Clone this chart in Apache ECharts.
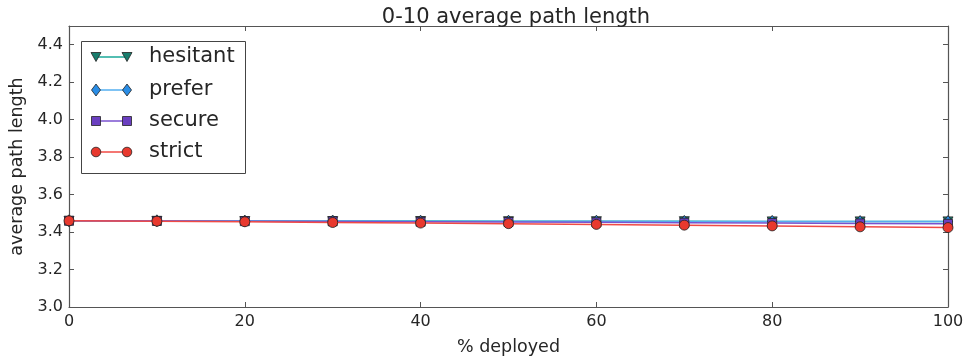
<!DOCTYPE html>
<html>
<head>
<meta charset="utf-8">
<script src="https://cdn.jsdelivr.net/npm/echarts@6/dist/echarts.min.js"></script>
<style>html,body{margin:0;padding:0;background:#fff;}#c{width:972px;height:361px;}</style>
</head>
<body>
<div id="c"></div>
<script>
const deployed = [0, 10, 20, 30, 40, 50, 60, 70, 80, 90, 100];
const hesitant = [3.460, 3.460, 3.459, 3.459, 3.459, 3.458, 3.458, 3.458, 3.457, 3.457, 3.457];
const prefer   = [3.460, 3.460, 3.459, 3.459, 3.458, 3.458, 3.458, 3.457, 3.457, 3.456, 3.456];
const secure   = [3.460, 3.459, 3.458, 3.457, 3.455, 3.454, 3.452, 3.450, 3.448, 3.446, 3.444];
const strict   = [3.460, 3.458, 3.455, 3.451, 3.448, 3.445, 3.441, 3.437, 3.433, 3.428, 3.424];
const seriesNames = ['hesitant', 'prefer', 'secure', 'strict'];
const xTicks = [0, 20, 40, 60, 80, 100];
const yTicks = [3.0, 3.2, 3.4, 3.6, 3.8, 4.0, 4.2, 4.4];

const FONT = 'DejaVu Sans';
const TXT = '#262626';
const FRAME = '#555';
const lineCols = ['#1aa898', '#55aff0', '#7a52cf', '#f04a45'];
const markCols = ['#177d6d', '#2a8de6', '#6a3fc0', '#e8392e'];
const symbols = ['triangle', 'diamond', 'rect', 'circle'];
const symSizes = [[10, 9], [9, 12], [9, 9], [10, 10]];
const symRot = [180, 0, 0, 0];
const datasets = [hesitant, prefer, secure, strict];

const chart = echarts.init(document.getElementById('c'), null, {renderer: 'canvas'});

function axisCommon() {
  return {
    axisLine: {show: true, onZero: false, lineStyle: {color: FRAME, width: 1.2}},
    axisTick: {show: true, inside: true, length: 5, lineStyle: {color: FRAME, width: 1}},
    splitLine: {show: false}
  };
}

const series = datasets.map((d, i) => ({
  name: seriesNames[i],
  type: 'line',
  xAxisIndex: 0,
  yAxisIndex: 0,
  data: deployed.map((x, j) => [x, d[j]]),
  symbol: symbols[i],
  symbolSize: symSizes[i],
  symbolRotate: symRot[i],
  showAllSymbol: true,
  lineStyle: {color: lineCols[i], width: 1.5},
  itemStyle: {color: markCols[i], borderColor: '#222', borderWidth: 0.8},
  animation: false,
  z: 2 + i
}));

// legend built as graphic (matplotlib style: marker at both ends)
const legendX0 = 96, legendX1 = 127, legendTextX = 149;
const legendY = [57, 90, 121, 152];
const legendChildren = [{
  type: 'rect', shape: {x: 81.5, y: 41.5, width: 164, height: 132},
  style: {fill: '#fff', stroke: '#444', lineWidth: 1}
}];
function markerShape(i, cx, cy) {
  const st = {fill: markCols[i], stroke: '#222', lineWidth: 0.8};
  if (i === 0) return {type: 'polygon', shape: {points: [[cx - 5, cy - 4.5], [cx + 5, cy - 4.5], [cx, cy + 4.5]]}, style: st};
  if (i === 1) return {type: 'polygon', shape: {points: [[cx, cy - 6], [cx + 4.5, cy], [cx, cy + 6], [cx - 4.5, cy]]}, style: st};
  if (i === 2) return {type: 'rect', shape: {x: cx - 4.5, y: cy - 4.5, width: 9, height: 9}, style: st};
  return {type: 'circle', shape: {cx: cx, cy: cy, r: 4.8}, style: st};
}
seriesNames.forEach((n, i) => {
  const y = legendY[i];
  legendChildren.push({type: 'line', shape: {x1: legendX0, y1: y, x2: legendX1, y2: y}, style: {stroke: lineCols[i], lineWidth: 1.5}});
  legendChildren.push(markerShape(i, legendX0, y));
  legendChildren.push(markerShape(i, legendX1, y));
  legendChildren.push({type: 'text', x: legendTextX, y: y, style: {text: n, fill: TXT, font: '21px "' + FONT + '"', textVerticalAlign: 'middle', textAlign: 'left'}});
});

chart.setOption({
  backgroundColor: '#fff',
  animation: false,
  textStyle: {fontFamily: FONT},
  title: {
    text: '0-10 average path length',
    left: 511, top: 2, textAlign: 'center',
    textStyle: {fontFamily: FONT, fontSize: 21, fontWeight: 'normal', color: TXT}
  },
  grid: {left: 69, right: 24, top: 26, bottom: 54, containLabel: false},
  xAxis: [
    Object.assign(axisCommon(), {
      type: 'value', min: 0, max: 100, interval: 20, position: 'bottom',
      name: '% deployed', nameLocation: 'middle', nameGap: 31,
      nameTextStyle: {fontFamily: FONT, fontSize: 17.5, color: TXT},
      axisLabel: {show: true, margin: 7, fontFamily: FONT, fontSize: 16, color: TXT,
        formatter: v => xTicks.includes(v) ? String(v) : ''}
    }),
    Object.assign(axisCommon(), {
      type: 'value', min: 0, max: 100, interval: 20, position: 'top',
      axisLabel: {show: false}
    })
  ],
  yAxis: [
    Object.assign(axisCommon(), {
      type: 'value', min: 3.0, max: 4.5, interval: 0.2, position: 'left',
      name: 'average path length', nameLocation: 'middle', nameGap: 41,
      nameTextStyle: {fontFamily: FONT, fontSize: 17.5, color: TXT},
      axisLabel: {show: true, margin: 6, fontFamily: FONT, fontSize: 16, color: TXT,
        showMaxLabel: false,
        formatter: v => yTicks.some(t => Math.abs(t - v) < 1e-6) ? v.toFixed(1) : ''}
    }),
    Object.assign(axisCommon(), {
      type: 'value', min: 3.0, max: 4.5, interval: 0.2, position: 'right',
      axisLabel: {show: false}
    })
  ],
  series: series,
  graphic: [{type: 'group', z: 100, children: legendChildren}]
});
</script>
</body>
</html>
